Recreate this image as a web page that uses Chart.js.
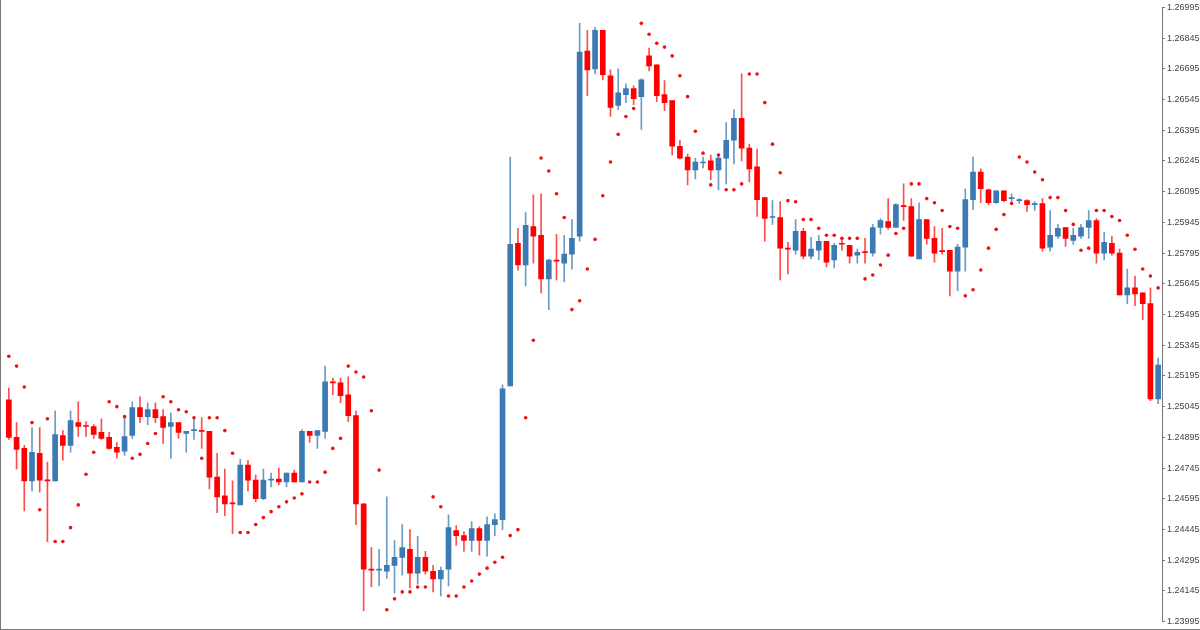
<!DOCTYPE html>
<html>
<head>
<meta charset="utf-8">
<script src="https://cdn.jsdelivr.net/npm/chart.js@4"></script>
<style>
  html, body { margin: 0; padding: 0; background: #fff; }
  #wrap { width: 1199px; height: 629px; border-left: 1px solid #777; border-bottom: 1px solid #777; }
</style>
</head>
<body>
<div id="wrap"><canvas id="priceChart" width="1199" height="629"></canvas></div>
<script>
// candle prices (oldest first)
const opens = [1.25078,1.24895,1.24841,1.24682,1.24817,1.24686,1.24682,1.24904,1.24856,1.24967,1.24953,1.24948,1.24919,1.24895,1.24846,1.24827,1.24904,1.25040,1.24996,1.25030,
  1.24996,1.24948,1.24967,1.24914,1.24928,1.24928,1.24924,1.24701,1.24609,1.24575,1.24565,1.24759,1.24686,1.24595,1.24686,1.24691,1.24677,1.24720,1.24677,1.24924,
  1.24904,1.24924,1.25166,1.25161,1.25103,1.25001,1.24570,1.24251,1.24246,1.24241,1.24270,1.24309,1.24348,1.24232,1.24309,1.24241,1.24203,1.24251,1.24440,1.24415,
  1.24391,1.24449,1.24391,1.24469,1.24493,1.25146,1.25843,1.25737,1.25925,1.25882,1.25669,1.25761,1.25746,1.25790,1.25877,1.26782,1.26695,1.26883,1.26661,1.26516,
  1.26569,1.26598,1.26559,1.26758,1.26714,1.26569,1.26540,1.26317,1.26264,1.26201,1.26235,1.26245,1.26201,1.26259,1.26346,1.26453,1.26308,1.26216,1.26066,1.25969,
  1.25969,1.25819,1.25809,1.25901,1.25780,1.25809,1.25853,1.25761,1.25843,1.25833,1.25785,1.25799,1.25795,1.25920,1.25949,1.25920,1.26027,1.26022,1.25766,1.25959,
  1.25867,1.25804,1.25809,1.25707,1.25824,1.26056,1.26191,1.26104,1.26041,1.26099,1.26061,1.26051,1.26051,1.26032,1.26037,1.25824,1.25877,1.25920,1.25857,1.25877,
  1.25920,1.25954,1.25795,1.25843,1.25795,1.25591,1.25625,1.25601,1.25548,1.25083];
const highs = [1.25136,1.24967,1.24856,1.24943,1.24943,1.24774,1.25025,1.24928,1.25025,1.25069,1.24972,1.24957,1.24986,1.24919,1.24870,1.24996,1.25069,1.25093,1.25064,1.25064,
  1.25030,1.25015,1.24967,1.24924,1.24991,1.24991,1.24924,1.24817,1.24740,1.24682,1.24788,1.24783,1.24711,1.24740,1.24720,1.24745,1.24720,1.24735,1.24933,1.24924,
  1.24928,1.25243,1.25185,1.25185,1.25190,1.25025,1.24570,1.24357,1.24348,1.24604,1.24391,1.24469,1.24444,1.24411,1.24338,1.24270,1.24261,1.24517,1.24464,1.24435,
  1.24483,1.24459,1.24507,1.24522,1.25151,1.26264,1.25916,1.25993,1.26080,1.26085,1.25766,1.25887,1.25882,1.25959,1.26917,1.26883,1.26898,1.26883,1.26690,1.26695,
  1.26622,1.26612,1.26646,1.26796,1.26714,1.26637,1.26540,1.26346,1.26278,1.26259,1.26264,1.26274,1.26278,1.26433,1.26496,1.26670,1.26327,1.26303,1.26066,1.26051,
  1.26046,1.25848,1.25959,1.25916,1.25872,1.25882,1.25853,1.25843,1.25867,1.25833,1.25814,1.25867,1.25935,1.25964,1.26061,1.26037,1.26133,1.26061,1.26041,1.25959,
  1.25925,1.25916,1.25809,1.25838,1.26109,1.26264,1.26206,1.26109,1.26099,1.26099,1.26085,1.26061,1.26056,1.26046,1.26061,1.26003,1.25935,1.25920,1.25916,1.25935,
  1.26003,1.25964,1.25896,1.25877,1.25814,1.25717,1.25683,1.25601,1.25625,1.25282];
const lows = [1.24885,1.24740,1.24536,1.24633,1.24628,1.24386,1.24682,1.24783,1.24822,1.24899,1.24899,1.24890,1.24885,1.24836,1.24793,1.24807,1.24890,1.24967,1.24957,1.24967,
  1.24865,1.24793,1.24890,1.24822,1.24885,1.24841,1.24643,1.24527,1.24512,1.24425,1.24565,1.24633,1.24580,1.24590,1.24653,1.24662,1.24653,1.24677,1.24677,1.24870,
  1.24841,1.24890,1.25103,1.25064,1.24972,1.24469,1.24048,1.24164,1.24169,1.24207,1.24135,1.24222,1.24159,1.24178,1.24227,1.24140,1.24120,1.24169,1.24367,1.24338,
  1.24338,1.24319,1.24314,1.24415,1.24444,1.25146,1.25712,1.25635,1.25746,1.25601,1.25519,1.25664,1.25654,1.25717,1.25853,1.26564,1.26670,1.26641,1.26462,1.26496,
  1.26530,1.26520,1.26399,1.26685,1.26535,1.26491,1.26274,1.26254,1.26128,1.26157,1.26211,1.26153,1.26104,1.26133,1.26230,1.26245,1.26143,1.25974,1.25853,1.25935,
  1.25664,1.25693,1.25790,1.25766,1.25766,1.25761,1.25727,1.25722,1.25809,1.25746,1.25746,1.25746,1.25780,1.25887,1.25911,1.25920,1.25954,1.25780,1.25766,1.25838,
  1.25751,1.25790,1.25586,1.25611,1.25707,1.26007,1.26041,1.26032,1.26037,1.26046,1.26037,1.26037,1.25998,1.26003,1.25804,1.25804,1.25867,1.25828,1.25838,1.25867,
  1.25867,1.25746,1.25761,1.25785,1.25591,1.25548,1.25538,1.25470,1.25074,1.25059];
const closes = [1.24895,1.24836,1.24682,1.24822,1.24686,1.24682,1.24909,1.24856,1.24977,1.24948,1.24948,1.24909,1.24890,1.24841,1.24822,1.24899,1.25040,1.24996,1.25030,1.24991,
  1.24943,1.24967,1.24919,1.24924,1.24930,1.24924,1.24701,1.24604,1.24570,1.24570,1.24759,1.24686,1.24595,1.24686,1.24688,1.24677,1.24720,1.24677,1.24924,1.24904,
  1.24928,1.25166,1.25161,1.25098,1.25001,1.24570,1.24251,1.24246,1.24251,1.24270,1.24309,1.24357,1.24232,1.24309,1.24241,1.24203,1.24246,1.24454,1.24415,1.24391,
  1.24449,1.24391,1.24469,1.24493,1.25132,1.25838,1.25737,1.25930,1.25877,1.25669,1.25761,1.25756,1.25790,1.25867,1.26777,1.26690,1.26883,1.26666,1.26506,1.26578,
  1.26598,1.26549,1.26641,1.26709,1.26564,1.26530,1.26317,1.26259,1.26201,1.26240,1.26237,1.26201,1.26259,1.26346,1.26453,1.26308,1.26206,1.26056,1.25964,1.25971,
  1.25819,1.25814,1.25901,1.25780,1.25814,1.25853,1.25751,1.25833,1.25838,1.25780,1.25799,1.25797,1.25920,1.25954,1.25920,1.26032,1.26022,1.25780,1.25959,1.25867,
  1.25795,1.25802,1.25707,1.25824,1.26056,1.26191,1.26109,1.26041,1.26099,1.26051,1.26063,1.26053,1.26032,1.26037,1.25819,1.25882,1.25916,1.25867,1.25882,1.25920,
  1.25954,1.25795,1.25848,1.25795,1.25591,1.25625,1.25596,1.25548,1.25083,1.25248];
// parabolic SAR dots
const sar = [1.25291,1.25243,1.25141,1.24967,1.24541,1.24986,1.24386,1.24386,1.24454,1.24565,1.24715,1.24822,null,1.25069,1.25045,1.24996,1.24793,1.24812,1.24865,1.24914,
  1.25093,1.25069,1.25030,1.25020,1.24991,1.24793,1.24991,1.24991,1.24928,1.24817,1.24430,1.24430,1.24469,1.24503,1.24532,1.24556,1.24580,1.24599,1.24619,1.24677,
  1.24677,1.24725,1.24841,1.24890,1.25243,1.25214,1.25190,1.25025,1.24735,1.24053,1.24106,1.24140,1.24140,1.24164,1.24164,1.24604,1.24556,1.24120,1.24120,1.24164,
  1.24193,1.24227,1.24256,1.24285,1.24309,1.24415,1.24444,1.24991,1.25369,1.26259,1.26196,1.26085,1.25969,1.25519,1.25562,1.25717,1.25862,1.26075,1.26240,1.26375,
  1.26462,1.26501,1.26917,1.26864,1.26820,1.26801,1.26758,1.26661,1.26559,1.26390,1.26283,1.26128,1.26274,1.26104,1.26104,1.26133,1.26670,1.26670,1.26530,1.26327,
  1.26187,1.26051,1.26046,1.25959,1.25959,1.25916,1.25882,1.25882,1.25867,1.25867,1.25867,1.25669,1.25688,1.25737,1.25785,1.25891,1.25916,1.26133,1.26133,1.26061,
  1.26041,1.26003,1.25925,1.25916,1.25586,1.25616,1.25712,1.25819,1.25911,1.25983,1.26037,1.26264,1.26240,1.26191,1.26153,1.26066,1.26066,1.26003,1.25935,1.25809,
  1.25819,1.26003,1.26003,1.25974,1.25954,1.25882,1.25814,1.25717,1.25683,1.25625];
const priceTicks = [1.26995,1.26845,1.26695,1.26545,1.26395,1.26245,1.26095,1.25945,1.25795,1.25645,1.25495,1.25345,
  1.25195,1.25045,1.24895,1.24745,1.24595,1.24445,1.24295,1.24145,1.23995];

const upColor = '#3b7ab3';
const downColor = '#ff0000';

document.addEventListener('DOMContentLoaded', function() {
    const labels = opens.map((o, i) => i + 1);
    const colors = opens.map((o, i) => closes[i] >= o ? upColor : downColor);
    const wickColors = opens.map((o, i) => closes[i] >= o ? 'rgba(59,122,179,0.75)' : 'rgba(255,0,0,0.7)');

    const ctx = document.getElementById('priceChart').getContext('2d');
    new Chart(ctx, {
        data: {
            labels: labels,
            datasets: [
                {
                    type: 'bar',
                    data: lows.map((l, i) => [l, highs[i]]),
                    backgroundColor: wickColors,
                    barThickness: 1,
                    grouped: false,
                    order: 3
                },
                {
                    type: 'bar',
                    data: opens.map((o, i) => [Math.min(o, closes[i]), Math.max(o, closes[i])]),
                    backgroundColor: colors,
                    barThickness: 5,
                    minBarLength: 1,
                    grouped: false,
                    order: 2
                },
                {
                    type: 'line',
                    data: sar,
                    showLine: false,
                    pointRadius: 1.8,
                    pointBackgroundColor: '#ee1111',
                    pointBorderWidth: 0,
                    order: 1
                }
            ]
        },
        options: {
            responsive: false,
            animation: false,
            layout: { padding: { top: 4, bottom: 4, left: 0, right: 0 } },
            plugins: { legend: { display: false }, tooltip: { enabled: false } },
            scales: {
                x: {
                    type: 'category',
                    offset: true,
                    display: false
                },
                y: {
                    position: 'right',
                    min: 1.23995,
                    max: 1.26995,
                    afterBuildTicks: axis => { axis.ticks = priceTicks.map(v => ({ value: v })); },
                    afterFit: axis => { axis.width = 38; },
                    border: { color: '#777' },
                    grid: { drawOnChartArea: false, tickLength: 3, color: '#777' },
                    ticks: {
                        padding: 2,
                        color: '#444',
                        font: { family: 'Liberation Sans', size: 9 },
                        callback: v => Number(v).toFixed(5)
                    }
                }
            }
        }
    });
});
</script>
</body>
</html>
